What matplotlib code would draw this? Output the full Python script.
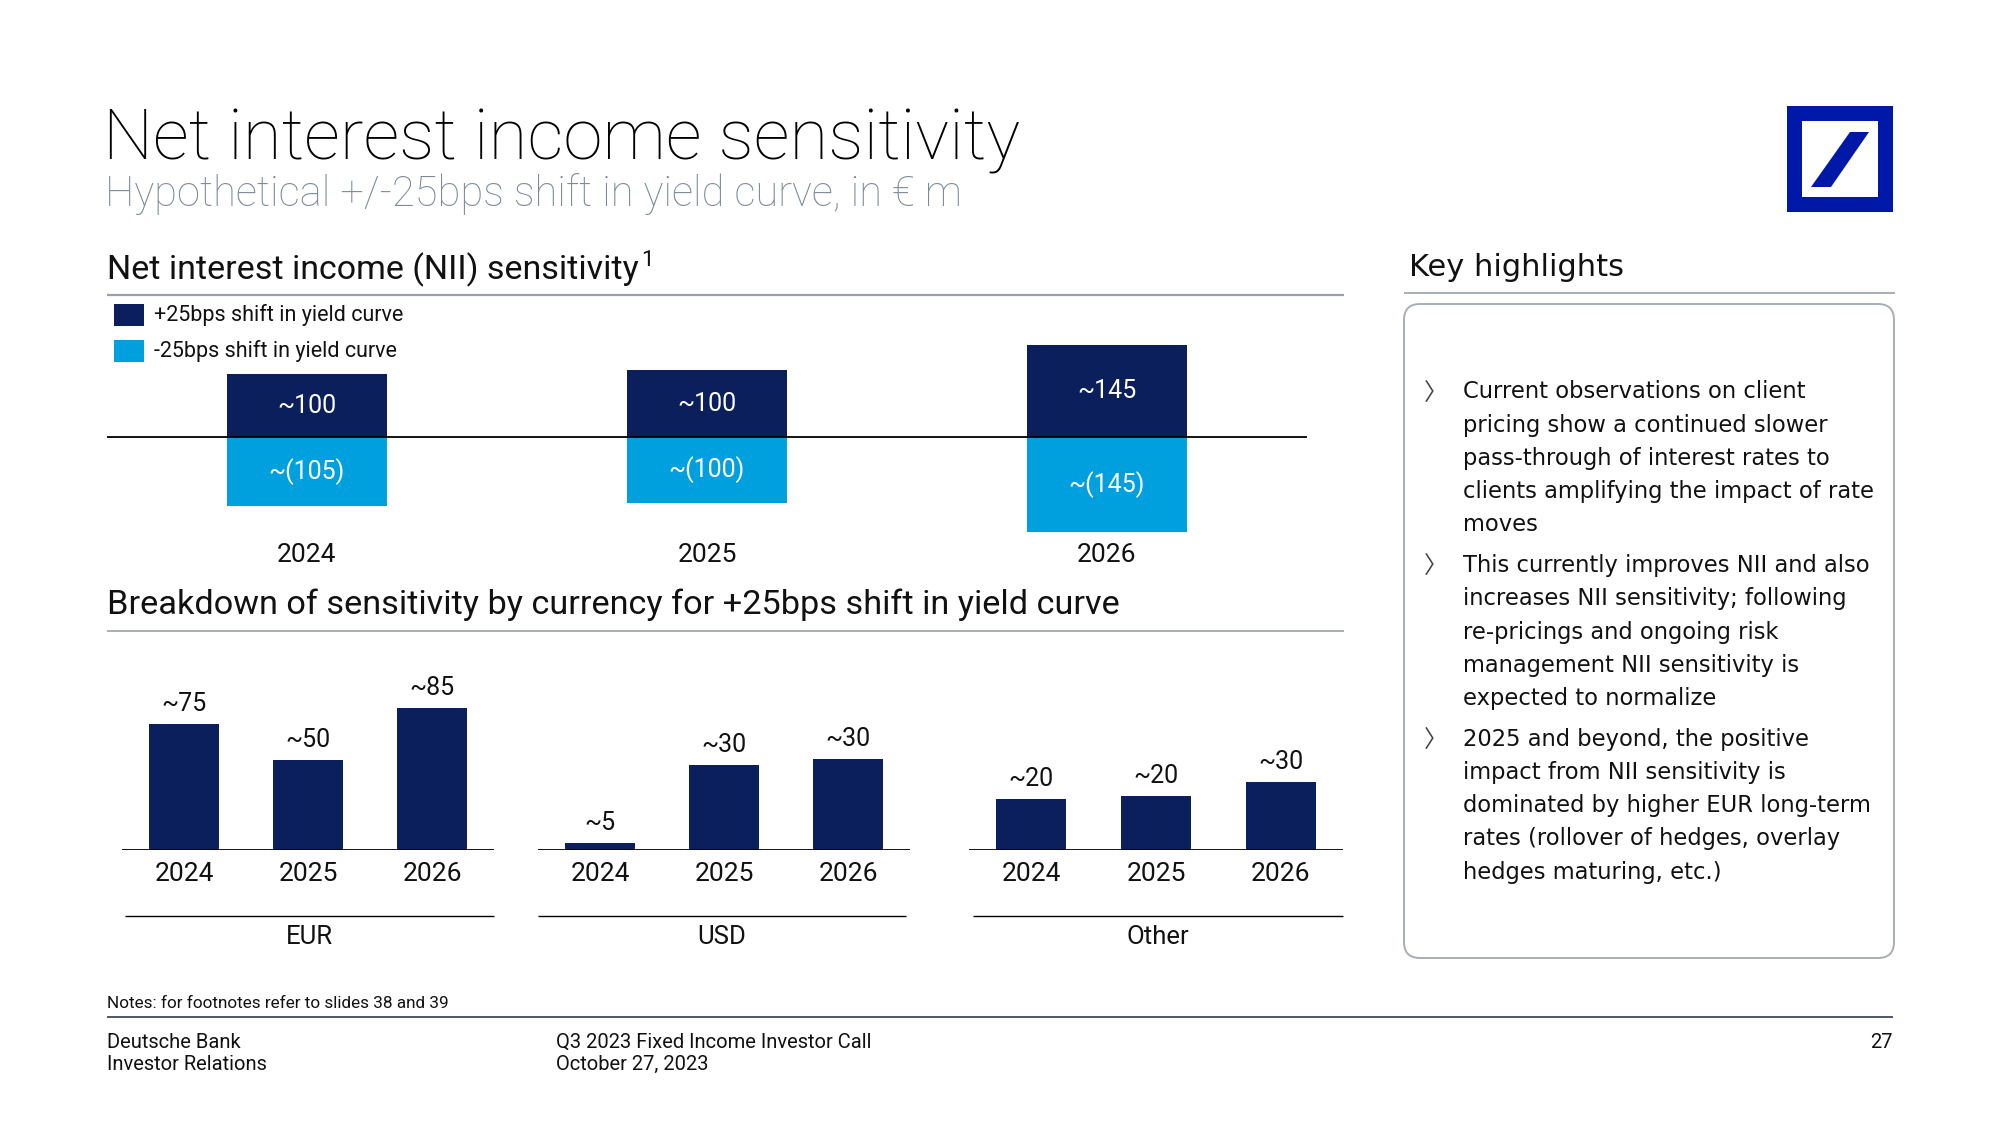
import matplotlib
matplotlib.use("Agg")
import matplotlib.pyplot as plt
from matplotlib.patches import Rectangle, Polygon, FancyBboxPatch

# ---- data ----
years = ["2024", "2025", "2026"]
nii_up = [96, 102, 140]          # +25bps bar heights
nii_down = [-105, -100, -145]    # -25bps bar heights
nii_up_labels = ["~100", "~100", "~145"]
nii_down_labels = ["~(105)", "~(100)", "~(145)"]

currencies = ["EUR", "USD", "Other"]
eur_vals = [75, 54, 85]
usd_vals = [2.5, 29, 31]
other_vals = [22.5, 24, 30]
eur_labels = ["~75", "~50", "~85"]
usd_labels = ["~5", "~30", "~30"]
other_labels = ["~20", "~20", "~30"]

legend_labels = ["+25bps shift in yield curve", "-25bps shift in yield curve"]

highlights = [
    ["Current observations on client", "pricing show a continued slower",
     "pass-through of interest rates to", "clients amplifying the impact of rate", "moves"],
    ["This currently improves NII and also", "increases NII sensitivity; following",
     "re-pricings and ongoing risk", "management NII sensitivity is", "expected to normalize"],
    ["2025 and beyond, the positive", "impact from NII sensitivity is",
     "dominated by higher EUR long-term", "rates (rollover of hedges, overlay",
     "hedges maturing, etc.)"],
]

NAVY = "#0b1f5c"
LIGHT = "#00a0df"
GREY_LINE = "#9ba1a9"
INK = "#111111"
W, H = 2000, 1125
FONT = "Roboto"

fig = plt.figure(figsize=(20, 11.25), dpi=100)

# overlay axes in pixel coordinates for text and decoration
ov = fig.add_axes([0, 0, 1, 1])
ov.set_xlim(0, W)
ov.set_ylim(H, 0)
ov.axis("off")


def px_axes(left, top, right, bottom):
    return fig.add_axes([left / W, 1 - bottom / H, (right - left) / W, (bottom - top) / H])


def hline(x0, x1, y, color, lw):
    ov.plot([x0, x1], [y, y], color=color, lw=lw, solid_capstyle="butt")


# title
ov.text(103, 159, "Net interest income sensitivity", fontsize=51, family=FONT,
        fontweight="light", va="baseline", color="black")
ov.text(105, 206, "Hypothetical +/-25bps shift in yield curve, in € m", fontsize=30,
        family=FONT, fontweight="light", va="baseline", color="#7d8b99")

# logo
ov.add_patch(Rectangle((1787, 106), 106, 106, color="#0018a8", lw=0))
ov.add_patch(Rectangle((1802, 121), 76, 76, color="white", lw=0))
ov.add_patch(Polygon([(1850, 132), (1869, 132), (1831, 187), (1811, 187)],
                     closed=True, color="#0018a8", lw=0))

# section headers
ov.text(107, 279, "Net interest income (NII) sensitivity", fontsize=24.5, family=FONT,
        va="baseline", color=INK)
ov.text(641, 266, "1", fontsize=16, family=FONT, va="baseline", color=INK)
hline(107, 1344, 295, GREY_LINE, 1.6)
ov.text(107, 614, "Breakdown of sensitivity by currency for +25bps shift in yield curve",
        fontsize=24.7, family=FONT, va="baseline", color=INK)
hline(107, 1344, 631, GREY_LINE, 1.2)

# legend
for (y, c, lbl) in [(304, NAVY, legend_labels[0]), (340, LIGHT, legend_labels[1])]:
    ov.add_patch(Rectangle((114, y), 30, 22, color=c, lw=0))
    ov.text(154, y + 11, lbl, fontsize=15.5, family=FONT, va="center", color=INK)

# ---- top chart ----
scale = 0.656  # px per unit
zero_y = 437
lim = 170
ax = px_axes(107, zero_y - lim * scale, 1307, zero_y + lim * scale)
x = range(len(years))
ax.bar(x, nii_up, width=0.4, color=NAVY)
ax.bar(x, nii_down, width=0.4, color=LIGHT)
ax.axhline(0, color="black", lw=1.3)
ax.set_xlim(-0.5, 2.5)
ax.set_ylim(-lim, lim)
ax.axis("off")
for i in x:
    ax.text(i, nii_up[i] / 2, nii_up_labels[i], color="white", ha="center", va="center",
            fontsize=18, family=FONT)
    ax.text(i, nii_down[i] / 2, nii_down_labels[i], color="white", ha="center", va="center",
            fontsize=18, family=FONT)
    ax.text(i, -(555 - zero_y) / scale, years[i], ha="center", va="center",
            fontsize=19, family=FONT, color=INK)

# ---- bottom charts ----
base_y = 850
groups = [
    (eur_vals, eur_labels, 1.675, 122, 494, 125, 494),
    (usd_vals, usd_labels, 2.92, 538, 910, 538, 906),
    (other_vals, other_labels, 2.267, 969, 1343, 973, 1343),
]
for (vals, labels, s, l, r, gl, gr), cur in zip(groups, currencies):
    top = 640
    a = px_axes(l, top, r, base_y)
    a.bar(range(3), vals, width=0.56, color=NAVY)
    a.axhline(0, color="black", lw=1.3)
    a.set_xlim(-0.5, 2.5)
    a.set_ylim(0, (base_y - top) / s)
    a.axis("off")
    for i, v in enumerate(vals):
        a.text(i, v + 20 / s, labels[i], ha="center", va="center", fontsize=18,
               family=FONT, color=INK)
        a.text(i, -24 / s, years[i], ha="center", va="center", fontsize=19,
               family=FONT, color=INK)
    hline(gl, gr, 916, "black", 1.0)
    ov.text((gl + gr) / 2, 937, cur, ha="center", va="center", fontsize=18.5,
            family=FONT, color=INK)

# ---- key highlights ----
ov.text(1409, 276, "Key highlights", fontsize=22, family="DejaVu Sans", va="baseline",
        color=INK)
hline(1404, 1895, 293, GREY_LINE, 1.2)
ov.add_patch(FancyBboxPatch((1404, 304), 490, 654,
                            boxstyle="round,pad=0,rounding_size=16",
                            fc="white", ec="#a8aeb5", lw=1.4))
y = 392
for para in highlights:
    ov.text(1424, y + 2, "\u3009", fontsize=17, family=["Noto Sans CJK JP", "DejaVu Sans"],
            va="center", color="#444444")
    for line in para:
        ov.text(1463, y, line, fontsize=16.3, family="DejaVu Sans", va="center",
                color=INK)
        y += 33.2
    y += 7.6

# ---- footer ----
ov.text(107, 1003, "Notes: for footnotes refer to slides 38 and 39", fontsize=12.3,
        family=FONT, va="center", color=INK)
hline(107, 1893, 1017, "#1f2a3a", 1.1)
for (xx, yy, t) in [(107, 1042, "Deutsche Bank"), (107, 1064, "Investor Relations"),
                    (556, 1042, "Q3 2023 Fixed Income Investor Call"),
                    (556, 1064, "October 27, 2023")]:
    ov.text(xx, yy, t, fontsize=14.5, family=FONT, va="center", color=INK)
ov.text(1893, 1042, "27", fontsize=14.5, family=FONT, va="center", ha="right",
        color=INK)

fig.savefig("out.png", dpi=100, facecolor="white")
